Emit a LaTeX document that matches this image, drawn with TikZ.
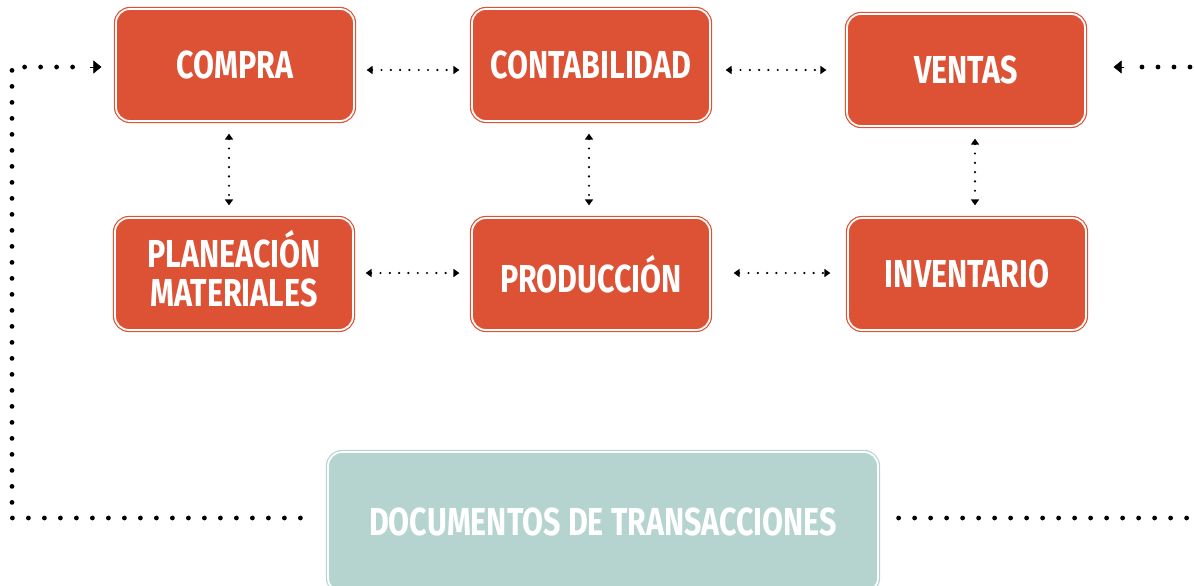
\documentclass[tikz,border=0pt]{standalone}
\usepackage{fontspec}
\newfontfamily\cf{Fira Sans}[FakeStretch=0.78]
\usetikzlibrary{arrows.meta}
\definecolor{boxred}{HTML}{DD5135}
\definecolor{boxteal}{HTML}{B5D4CF}
\tikzset{
  redbox/.style={draw=boxred, line width=1.2pt, double=white, double distance=1.8pt, fill=boxred,
    rounded corners=14pt, minimum width=238pt, minimum height=112pt, inner sep=0pt,
    text=white, font=\cf\bfseries\fontsize{39}{40}\selectfont, align=center},
  tealbox/.style={redbox, draw=boxteal, fill=boxteal, minimum width=550pt, minimum height=140pt},
  smalldots/.style={line width=2.4pt, line cap=round, dash pattern=on 0pt off 9.3pt,
    shorten <=12pt, shorten >=12pt, {Triangle[length=6pt,width=8pt]}-{Triangle[length=6pt,width=8pt]}},
  bigdots/.style={line width=4.8pt, line cap=round, dash pattern=on 0pt off 16pt},
  bigtip/.style={line width=0.6pt, -{Triangle[length=8pt,width=13pt]}},
}
\begin{document}
\begin{tikzpicture}[x=1pt,y=-1pt]
\useasboundingbox (0,0) rectangle (1194,586);
\node[redbox] (compra) at (235,65) {COMPRA};
\node[redbox] (conta) at (591,65) {CONTABILIDAD};
\node[redbox] (ventas) at (966,70) {VENTAS};
\node[redbox] (plan) at (234,274) {\raisebox{0pt}{\begin{tabular}{@{}c@{}}PLANEACIÓN\\[-1pt]MATERIALES\end{tabular}}};
\node[redbox] (prod) at (591,274) {PRODUCCIÓN};
\node[redbox] (inv) at (967,274) {INVENTARIO};
\node[tealbox] (docs) at (603,522) {DOCUMENTOS DE TRANSACCIONES};
\coordinate (bl) at (12,518);
\coordinate (tl) at (12,67);
\coordinate (br) at (1190,518);
\coordinate (tr) at (1190,67);
% horizontal and vertical links
\draw[smalldots] (compra.east |- 0,70) -- (conta.west |- 0,70);
\draw[smalldots, shorten <=15pt, shorten >=20pt] (conta.east |- 0,70) -- (ventas.west |- 0,70);
\draw[smalldots] (plan.east |- 0,273) -- (prod.west |- 0,273);
\draw[smalldots, shorten <=23pt, shorten >=17pt] (prod.east |- 0,273) -- (inv.west |- 0,273);
\draw[smalldots] (compra.south -| 229,0) -- (plan.north -| 229,0);
\draw[smalldots] (conta.south -| 589,0) -- (prod.north -| 589,0);
\draw[smalldots] (ventas.south -| 975,0) -- (inv.north -| 975,0);
% outer loop
\draw[bigdots] (docs.west |- bl) ++(-27,0) -- (bl) -- (tl) -- ++(76,0);
\draw[bigtip] (90,67) -- (compra.west |- tl) [shorten >=14pt];
\draw[bigdots] (docs.east |- br) ++(20,0) -- (br);
\draw[bigdots] (tr) -- ++(-57,0);
\draw[bigtip] (1124,67) -- (ventas.east |- tr) [shorten >=28pt];
\end{tikzpicture}
\end{document}
